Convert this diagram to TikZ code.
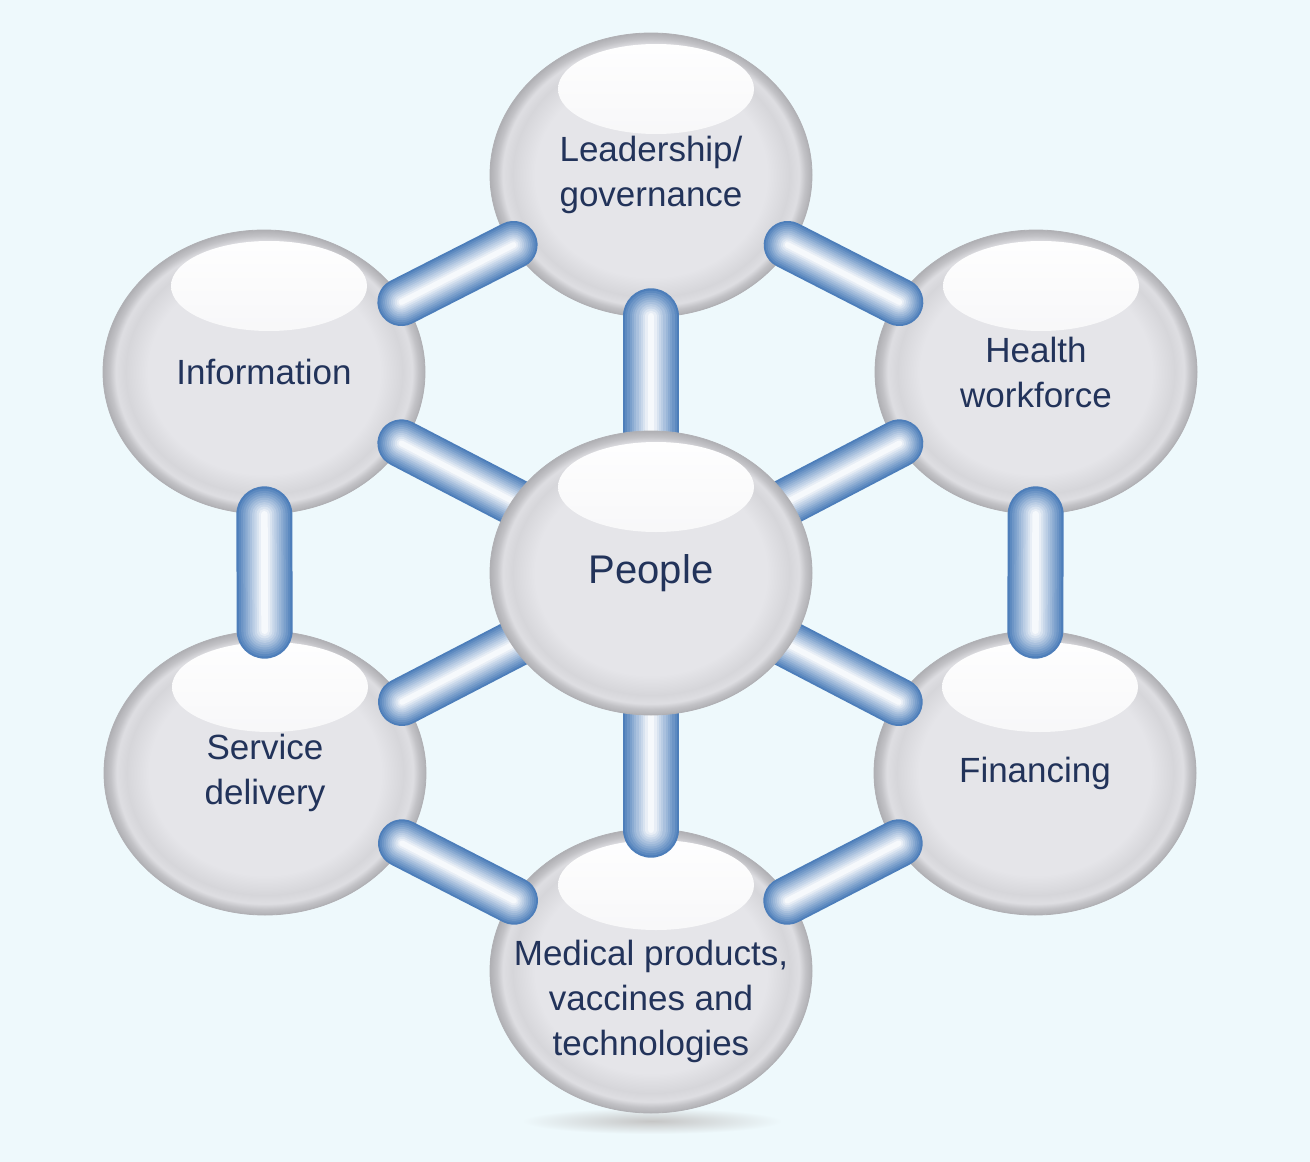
\documentclass[tikz,border=0pt]{standalone}
\usepackage{fontspec}
\setmainfont{Liberation Sans}
\usepackage{tikz}
\usetikzlibrary{calc}
\usetikzlibrary{shapes.geometric}

\definecolor{bgblue}{HTML}{EEF9FC}
\definecolor{navy}{HTML}{22335A}
\definecolor{rodblue}{HTML}{4D7EBA}
\definecolor{ballin}{HTML}{E5E5E9}
\definecolor{ballmid}{HTML}{D6D6DA}
\definecolor{ballring}{HTML}{DEDEE2}
\definecolor{balledge}{HTML}{C2C2C6}
\definecolor{ballrim}{HTML}{B0B0B4}
\definecolor{hlgrey}{HTML}{EAEAEE}

\pgfdeclareradialshading{ballgrey}{\pgfpoint{0bp}{0bp}}{color(0bp)=(ballin); color(18bp)=(ballin); color(21.5bp)=(ballmid); color(23bp)=(ballring); color(24bp)=(balledge); color(25bp)=(ballrim); color(50bp)=(ballrim)}

\newcommand{\tube}[3]{%
  \foreach \k in {0,...,11}{%
    \pgfmathtruncatemacro{\mix}{100-8.6*\k}%
    \draw[line width={(1-\k/12.5)*#1},line cap=round,draw=rodblue!\mix!white](#2)--(#3);
  }}

\begin{document}
\begin{tikzpicture}[x=1pt,y=-1pt]
		\tikzstyle{ball}=[ellipse,minimum width=322pt,minimum height=284pt,inner sep=0pt,
			shade,shading=ballgrey,draw=ballrim,line width=0.8pt,
			path picture={\shade[top color=white,bottom color=hlgrey]
				($(path picture bounding box.center)+(5,-86)$) ellipse (98 and 45);}];
		\tikzstyle{lbl}=[text=navy,align=center,font=\fontsize{35}{45}\selectfont];

		\useasboundingbox[fill=bgblue](0,0) rectangle (1310,1162);
		\shade[inner color=gray!45,outer color=bgblue](652,1121) ellipse (130 and 13);

		\coordinate(hub) at (651,573);
		\node[ball](lead) at (651,175){};
		\node[ball](info) at (264,372){};
		\node[ball](health) at (1036,372){};
		\node[ball](service) at (265,773){};
		\node[ball](finance) at (1035,773){};
		\node[ball](medical) at (651,971){};

		\tube{48pt}{$(info)!0.355!(lead)$}{$(info)!0.645!(lead)$}
		\tube{48pt}{$(lead)!0.355!(health)$}{$(lead)!0.645!(health)$}
		\tube{56pt}{$(info)!0.355!(service)$}{$(info)!0.645!(service)$}
		\tube{56pt}{$(health)!0.355!(finance)$}{$(health)!0.645!(finance)$}
		\tube{48pt}{$(service)!0.355!(medical)$}{$(service)!0.645!(medical)$}
		\tube{48pt}{$(finance)!0.355!(medical)$}{$(finance)!0.645!(medical)$}

		\tube{56pt}{$(lead)!0.355!(hub)$}{hub}
		\tube{48pt}{$(info)!0.355!(hub)$}{hub}
		\tube{48pt}{$(health)!0.355!(hub)$}{hub}
		\tube{48pt}{$(service)!0.355!(hub)$}{hub}
		\tube{48pt}{$(finance)!0.355!(hub)$}{hub}
		\tube{56pt}{$(medical)!0.355!(hub)$}{hub}

		\node[ball](people) at (hub){};

		\node[lbl](leadtxt) at (lead){Leadership/\\governance};
		\node[lbl](infotxt) at (info){Information};
		\node[lbl](healthtxt) at (health){Health\\workforce};
		\node[lbl](servicetxt) at (service){Service\\delivery};
		\node[lbl](financetxt) at (finance){Financing};
		\node[lbl](medicaltxt) at ($(medical)+(0,30)$){Medical products,\\vaccines and\\technologies};
		\node[lbl,font=\fontsize{40}{48}\selectfont](peopletxt) at (people){People};
	\end{tikzpicture}
\end{document}
